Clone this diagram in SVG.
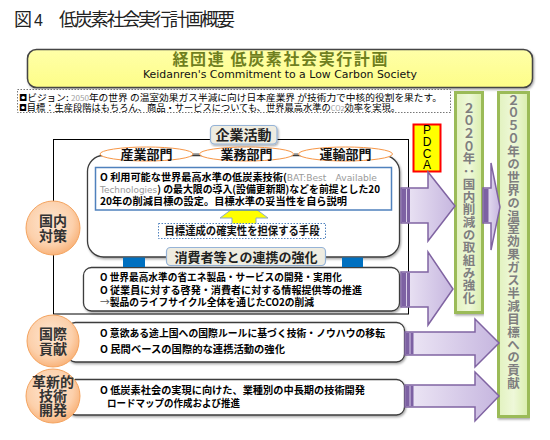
<svg xmlns="http://www.w3.org/2000/svg" width="550" height="440" viewBox="0 0 550 440">
<defs>
<style>
.jp{font-family:"Noto Sans CJK JP","Noto Sans CJK SC",sans-serif}
.b{font-weight:bold}
.body{font-family:"Noto Sans CJK JP",sans-serif;font-weight:bold;font-size:10px;fill:#000}
.gray{fill:#9a9a9a;font-weight:normal}
.box{fill:#fff;stroke:#3c3c3c;stroke-width:1.3}
.ell{fill:#fff;stroke:#f79646;stroke-width:1}
.lbl{fill:#eeece1;stroke:#95b3d7;stroke-width:1.2}
.circ{fill:url(#gCirc);stroke:#f4a460;stroke-width:1}
.ctext{font-family:"Noto Sans CJK JP",sans-serif;font-weight:bold;font-size:14px;fill:#333;text-anchor:middle}
.green{fill:url(#gGreen);stroke:#9bbb59;stroke-width:3}
.vt{font-family:"Noto Sans CJK JP",sans-serif;font-weight:bold;font-size:12.5px;fill:#7f7f7f;writing-mode:vertical-rl;text-orientation:upright}
.arrow{fill:url(#gArrow);stroke:#8064a2;stroke-width:1.5;stroke-linejoin:miter}
.band{fill:#7d61a3}
.bandline{stroke:#d9cde9;stroke-width:1}
.conn{fill:#0070c0}
.sq{font-family:"DejaVu Sans",sans-serif;font-weight:bold}
</style>
<radialGradient id="gCirc" cx="0.45" cy="0.4" r="0.6">
<stop offset="0" stop-color="#fde6d2"/>
<stop offset="0.7" stop-color="#fcd0ab"/>
<stop offset="1" stop-color="#f9b47c"/>
</radialGradient>
<linearGradient id="gGreen" x1="0" y1="0" x2="1" y2="0">
<stop offset="0" stop-color="#e2f2bf"/>
<stop offset="0.5" stop-color="#eef8d9"/>
<stop offset="1" stop-color="#d9eeac"/>
</linearGradient>
<linearGradient id="gArrow" x1="0" y1="0" x2="1" y2="0">
<stop offset="0" stop-color="#eee8f6"/>
<stop offset="1" stop-color="#c6b6df"/>
</linearGradient>
<linearGradient id="gYellow" x1="0" y1="0" x2="0" y2="1">
<stop offset="0" stop-color="#ffffa8"/>
<stop offset="1" stop-color="#fdfd88"/>
</linearGradient>
<filter id="sh" x="-5%" y="-5%" width="110%" height="120%">
<feDropShadow dx="1" dy="1.5" stdDeviation="0.8" flood-color="#000" flood-opacity="0.35"/>
</filter>
</defs>
<rect width="550" height="440" fill="#fff"/>

<g id="fig-title">
<text class="jp" font-size="18" fill="#222" y="26"><tspan x="14">図</tspan><tspan x="34" font-family="Liberation Sans" font-size="16">4</tspan><tspan x="59" textLength="176" lengthAdjust="spacing">低炭素社会実行計画概要</tspan></text>
</g>

<g id="header">
<rect x="27.5" y="49.5" width="505" height="38" rx="9" fill="url(#gYellow)" stroke="#444" stroke-width="1.5" filter="url(#sh)"/>
<text class="jp b" x="280" y="65" font-size="16" fill="#6f7f1f" text-anchor="middle" textLength="215" lengthAdjust="spacing">経団連 低炭素社会実行計画</text>
<text x="280" y="78" font-family="DejaVu Sans,sans-serif" font-size="10.5" fill="#111" text-anchor="middle" textLength="274" lengthAdjust="spacingAndGlyphs">Keidanren's Commitment to a Low Carbon Society</text>
</g>

<g id="vision">
<rect x="17.5" y="89.5" width="433" height="23" fill="#fff" stroke="#777" stroke-width="1" stroke-dasharray="1.5,1.5"/>
<text class="jp" x="19" y="100.5" font-size="9" fill="#000" textLength="423" lengthAdjust="spacingAndGlyphs"><tspan class="sq">◘</tspan>ビジョン: <tspan fill="#a0a0a0" font-size="7.5">2050</tspan>年の世界 の温室効果ガス半減に向け日本産業界 が技術力で中核的役割を果たす。</text>
<text class="jp" x="19" y="110.5" font-size="9" fill="#000" textLength="381" lengthAdjust="spacingAndGlyphs"><tspan class="sq">◘</tspan>目標：生産段階はもちろん、商品・サービスについても、世界最高水準の<tspan fill="#a0a0a0" font-size="7">CO2</tspan>効率を実現。</text>
</g>

<g id="bar-2020">
<rect class="green" x="455.5" y="92.5" width="27" height="220" filter="url(#sh)"/>
<text class="vt" x="469" y="101.7" letter-spacing="0.2">２０２０年：国内削減の取組み強化</text>
</g>

<g id="bar-2050">
<rect class="green" x="498.5" y="92.5" width="30" height="324" filter="url(#sh)"/>
<text class="vt" x="513.5" y="93.5" letter-spacing="0.4">２０５０年の世界の温室効果ガス半減目標への貢献</text>
</g>

<g id="pdca">
<rect x="413.5" y="124.5" width="27" height="47" fill="#ffff00" stroke="#ff0000" stroke-width="2"/>
<text font-family="Liberation Sans,sans-serif" font-size="12" fill="#000" text-anchor="middle"><tspan x="427" y="134">P</tspan><tspan x="427" y="146">D</tspan><tspan x="427" y="157.5">C</tspan><tspan x="427" y="168.5">A</tspan></text>
</g>

<g id="domestic">
<rect x="53.5" y="139.5" width="355" height="174.5" fill="#fff" stroke="#000" stroke-width="1"/>
<rect class="box" x="87.5" y="155.5" width="312" height="101.5" rx="16" filter="url(#sh)"/>
<g id="sectors">
<line x1="193" y1="154" x2="199" y2="154" stroke="#555" stroke-width="1"/>
<line x1="294" y1="154" x2="298" y2="154" stroke="#555" stroke-width="1"/>
<ellipse class="ell" cx="146.5" cy="154" rx="46.5" ry="7"/>
<ellipse class="ell" cx="246.5" cy="154" rx="47" ry="7"/>
<ellipse class="ell" cx="345.5" cy="154" rx="47" ry="7"/>
<text class="jp b" font-size="13" fill="#111" text-anchor="middle"><tspan x="146.5" y="159">産業部門</tspan><tspan x="246.5" y="159">業務部門</tspan><tspan x="345.5" y="159">運輸部門</tspan></text>
</g>
<path d="M232,230 V218 H220 L244,200 L268,218 H256 V230 Z" fill="#ffff00" stroke="#8ea9c8" stroke-width="1"/>
<g id="bat-box">
<rect x="95.5" y="167.5" width="296" height="42.5" fill="#fff" stroke="#4f81bd" stroke-width="1.5"/>
<text class="body" x="100" y="181" textLength="277" lengthAdjust="spacingAndGlyphs">O 利用可能な世界最高水準の低炭素技術(<tspan class="gray" font-family="DejaVu Sans,sans-serif" font-size="9">BAT:Best　Available</tspan></text>
<text class="body" x="100" y="193" textLength="280" lengthAdjust="spacingAndGlyphs"><tspan class="gray" font-family="DejaVu Sans,sans-serif" font-size="9">Technologies</tspan>) の最大限の導入(設備更新期)などを前提とした20</text>
<text class="body" x="100" y="205" textLength="247" lengthAdjust="spacingAndGlyphs">20年の削減目標の設定。目標水準の妥当性を自ら説明</text>
</g>
<g id="means">
<rect x="158.5" y="223.5" width="167" height="15" fill="#fff" stroke="#4f81bd" stroke-width="1" stroke-dasharray="1.5,1.5"/>
<text class="jp b" x="242" y="235" font-size="11" fill="#111" text-anchor="middle" textLength="155" lengthAdjust="spacingAndGlyphs">目標達成の確実性を担保する手段</text>
</g>
<g id="consumer-label">
<rect class="lbl" x="166.5" y="247.5" width="159" height="18" rx="4"/>
<text class="jp b" x="246" y="261.5" font-size="13" fill="#222" text-anchor="middle" textLength="143" lengthAdjust="spacingAndGlyphs">消費者等との連携の強化</text>
</g>
<g id="consumer-box">
<rect class="box" x="83.5" y="267.5" width="316" height="43.5" rx="8" filter="url(#sh)"/>
<text class="body" x="100" y="281" textLength="242" lengthAdjust="spacingAndGlyphs">O 世界最高水準の省エネ製品・サービスの開発・実用化</text>
<text class="body" x="100" y="294" textLength="262" lengthAdjust="spacingAndGlyphs">O 従業員に対する啓発・消費者に対する情報提供等の推進</text>
<text class="body" x="100" y="306" textLength="214" lengthAdjust="spacingAndGlyphs"><tspan font-weight="normal" fill="#555">→</tspan>製品のライフサイクル全体を通じたCO2の削減</text>
</g>
<g id="kigyo-label">
<rect class="lbl" x="210.5" y="125.5" width="66.5" height="18.5" rx="4" filter="url(#sh)"/>
<text class="jp b" x="243.5" y="140" font-size="14" fill="#222" text-anchor="middle">企業活動</text>
</g>
<g id="circle-domestic">
<circle class="circ" cx="53" cy="228" r="27"/>
<text class="ctext"><tspan x="53" y="226">国内</tspan><tspan x="53" y="241">対策</tspan></text>
</g>
</g>

<g id="international">
<rect class="box" x="67.5" y="322.5" width="337" height="39.5" rx="8" filter="url(#sh)"/>
<text class="body" x="100" y="337" textLength="285" lengthAdjust="spacingAndGlyphs">O 意欲ある途上国への国際ルールに基づく技術・ノウハウの移転</text>
<text class="body" x="100" y="353" textLength="185" lengthAdjust="spacingAndGlyphs">O 民間ベースの国際的な連携活動の強化</text>
<circle class="circ" cx="53" cy="341" r="26"/>
<text class="ctext"><tspan x="53" y="339">国際</tspan><tspan x="53" y="354">貢献</tspan></text>
</g>

<g id="innovation">
<rect class="box" x="67.5" y="379.5" width="337" height="35.5" rx="8" filter="url(#sh)"/>
<text class="body" x="100" y="394" textLength="265" lengthAdjust="spacingAndGlyphs">O 低炭素社会の実現に向けた、業種別の中長期の技術開発</text>
<text class="body" x="107" y="407" textLength="133" lengthAdjust="spacingAndGlyphs">ロードマップの作成および推進</text>
<circle class="circ" cx="53" cy="396" r="27"/>
<text class="ctext" font-size="13"><tspan x="53" y="387">革新的</tspan><tspan x="53" y="401">技術</tspan><tspan x="53" y="415">開発</tspan></text>
</g>

<g id="connectors">
<rect class="conn" x="123" y="257.5" width="22" height="9.5"/>
<rect class="conn" x="342" y="257.5" width="21" height="9.5"/>
<path class="arrow" d="M401,188 H428 V172 L455,206 L428,241 V223 H401 Z"/>
<rect class="band" x="401.5" y="188.8" width="8.5" height="33.5"/>
<line class="bandline" x1="406.5" y1="189" x2="406.5" y2="222"/>
<path class="arrow" d="M401,272 H428 V252 L453,289 L428,325 V307 H401 Z"/>
<rect class="band" x="401.5" y="272.8" width="8.5" height="33.5"/>
<line class="bandline" x1="406.5" y1="273" x2="406.5" y2="306"/>
<path class="arrow" d="M405,332 H475 V319 L499,343 L475,367 V355 H405 Z"/>
<rect class="band" x="405.5" y="332.8" width="8" height="21.5"/>
<line class="bandline" x1="410" y1="333" x2="410" y2="354"/>
<path class="arrow" d="M405,385 H475 V372 L499,396 L475,421 V407 H405 Z"/>
<rect class="band" x="405.5" y="385.8" width="8" height="20.5"/>
<line class="bandline" x1="410" y1="386" x2="410" y2="406"/>
<path class="arrow" d="M483,188 H491 V163 L500,207 L491,250 V223 H483 Z"/>
<rect class="band" x="483.5" y="188.8" width="5" height="33.5"/>
</g>
</svg>
